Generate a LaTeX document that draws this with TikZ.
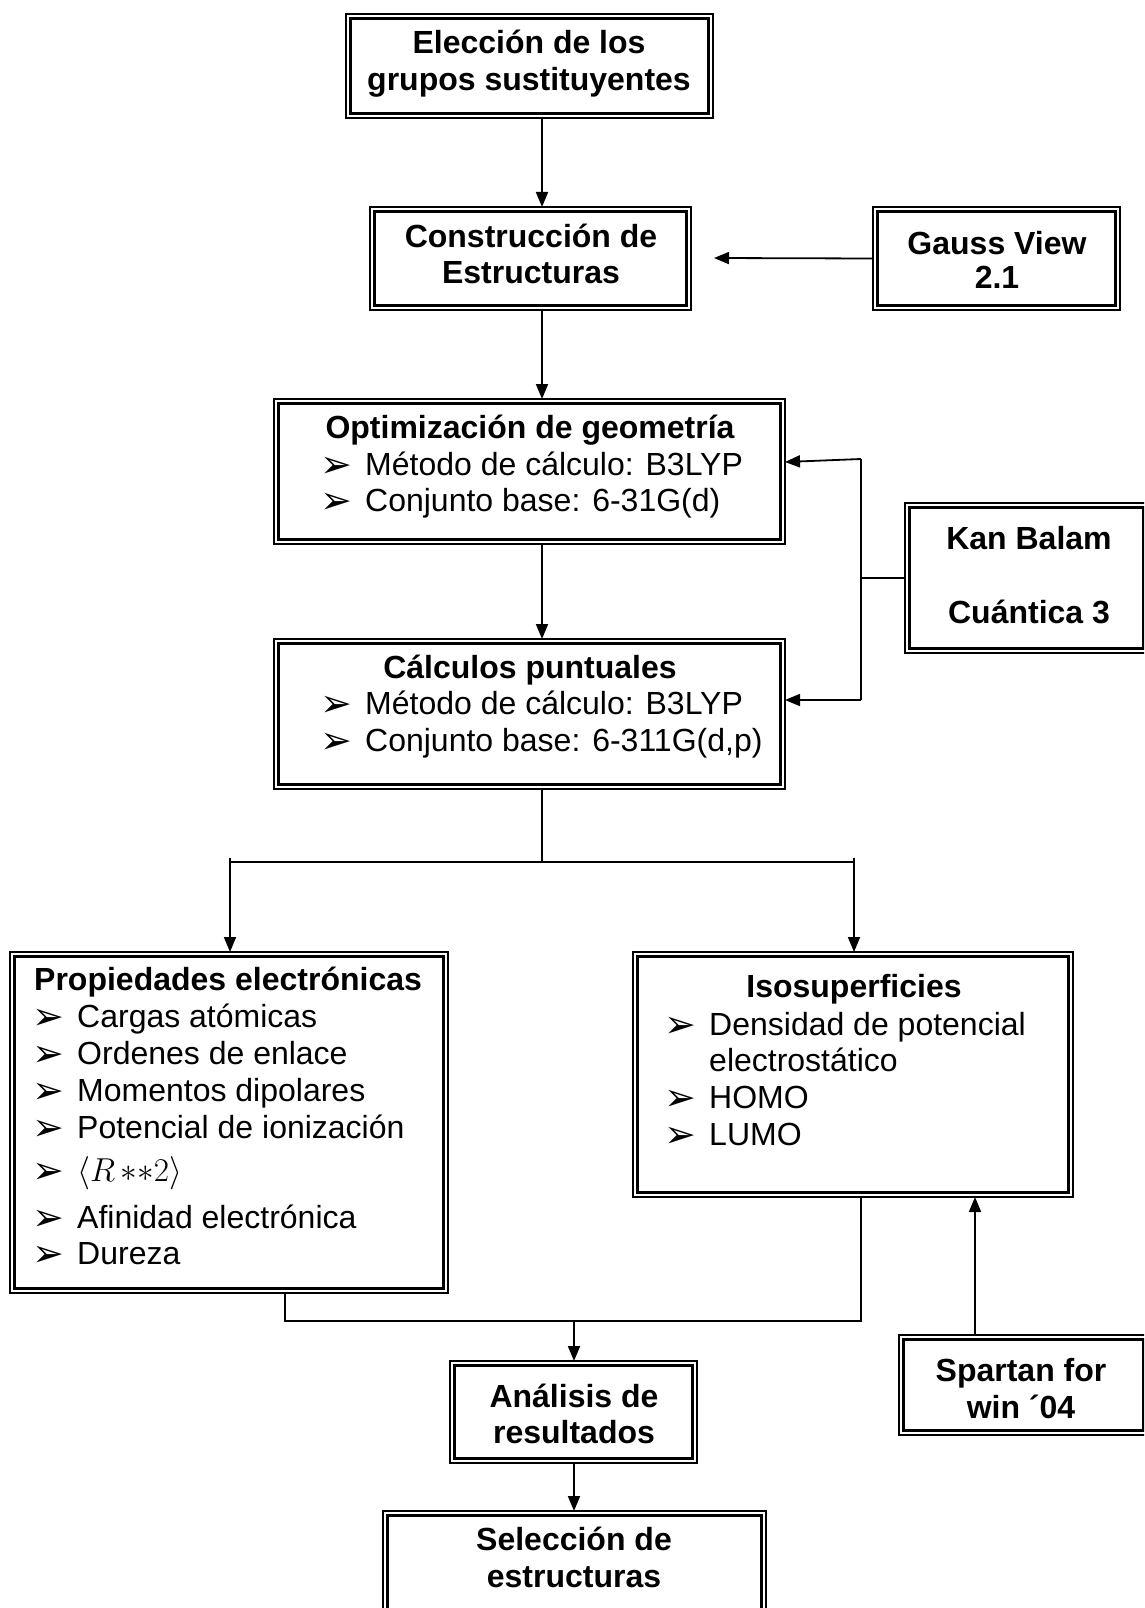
\documentclass[tikz,border=0pt]{standalone}
\usepackage{graphicx}
\usepackage{fontspec}
\setmainfont{Liberation Sans}
\newfontfamily\dejavu{DejaVu Sans}
\usetikzlibrary{arrows.meta}
\newcommand\bul{\makebox[45pt][l]{\raisebox{-2pt}{\dejavu\fontsize{38}{38}\selectfont ➢}}}
\newcommand\dbox[5]{\node[box, minimum width={#4-#2}, minimum height={#5-#3}] (#1) at (#2,#3) {};}
\newcommand\rform{{\fontsize{20}{20}\selectfont\scalebox{1.6}{$\langle R\,{*}{*}2\rangle$}}}
\begin{document}
\fontsize{32}{37}\selectfont
\begin{tikzpicture}[x=1pt,y=-1pt,
  box/.style={draw, line width=1.4pt, inner sep=0pt, outer sep=0pt, anchor=north west},
  con/.style={line width=1.8pt},
  arr/.style={con, -{Triangle[length=15pt,width=12pt]}},
  tl/.style={anchor=base, inner sep=0pt, font=\bfseries},
  tlw/.style={anchor=base west, inner sep=0pt, font=\bfseries},
  it/.style={anchor=base west, inner sep=0pt}]
\useasboundingbox[fill=white] (0,0) rectangle (1144,1608);
\clip (0,0) rectangle (1144,1608);
% boxes
\dbox{elec}{346}{14}{713}{118}
\dbox{cons}{370}{207}{691}{310}
\dbox{gauss}{873}{207}{1120}{310}
\dbox{opt}{274}{399}{785}{544}
\dbox{calc}{274}{639}{785}{789}
\dbox{kan}{905}{503}{1148}{653}
\dbox{prop}{10}{952}{448}{1293}
\dbox{iso}{633}{952}{1073}{1197}
\dbox{anal}{450}{1361}{697}{1463}
\dbox{sel}{383}{1511}{766}{1640}
\dbox{spartan}{899}{1335}{1148}{1435}
\foreach \n in {elec,cons,gauss,opt,calc,kan,prop,iso,anal,sel,spartan}
  \draw[line width=3pt] ([shift={(4.5pt,-4.5pt)}]\n.north west) rectangle ([shift={(-4.5pt,4.5pt)}]\n.south east);
% texts
\node[tl] (elec1) at (529,54) {Elección de los};
\node[tl] (elec2) at (529,91) {grupos sustituyentes};
\node[tl] (cons1) at (531,247) {Construcción de};
\node[tl] (cons2) at (531,283) {Estructuras};
\node[tl] (gauss1) at (997,254) {Gauss View};
\node[tl] (gauss2) at (997,288) {2.1};
\node[tl] (kan1) at (1029,549) {Kan Balam};
\node[tl] (kan2) at (1029,623) {Cuántica 3};
\node[tl] (opt0) at (530,438) {Optimización de geometría};
\node[it] (opt1) at (320,475) {\bul Método de cálculo: B3LYP};
\node[it] (opt2) at (320,511) {\bul Conjunto base: 6-31G(d)};
\node[tl] (calc0) at (530,678) {Cálculos puntuales};
\node[it] (calc1) at (320,714) {\bul Método de cálculo: B3LYP};
\node[it] (calc2) at (320,751) {\bul Conjunto base: 6-311G(d,p)};
\node[tlw] (prop0) at (34,990) {Propiedades electrónicas};
\node[it] (prop1) at (32,1027) {\bul Cargas atómicas};
\node[it] (prop2) at (32,1064) {\bul Ordenes de enlace};
\node[it] (prop3) at (32,1101) {\bul Momentos dipolares};
\node[it] (prop4) at (32,1138) {\bul Potencial de ionización};
\node[it] (prop5) at (32,1181) {\bul \rform};
\node[it] (prop6) at (32,1228) {\bul Afinidad electrónica};
\node[it] (prop7) at (32,1264) {\bul Dureza};
\node[tl] (iso0) at (854,997) {Isosuperficies};
\node[it] (iso1) at (664,1035) {\bul Densidad de potencial};
\node[it] (iso1b) at (709,1071) {electrostático};
\node[it] (iso2) at (664,1108) {\bul HOMO};
\node[it] (iso3) at (664,1145) {\bul LUMO};
\node[tl] (anal1) at (574,1407) {Análisis de};
\node[tl] (anal2) at (574,1443) {resultados};
\node[tl] (sel1) at (574,1550) {Selección de};
\node[tl] (sel2) at (574,1587) {estructuras};
\node[tl] (spar1) at (1021,1381) {Spartan for};
\node[tl] (spar2) at (1021,1418) {win ´04};
% connectors
\coordinate (ax) at (542,0);
\draw[arr] (elec.south -| ax) -- (cons.north -| ax);
\draw[arr] (cons.south -| ax) -- (opt.north -| ax);
\coordinate (gtip) at (714,258);
\draw[arr] (gauss.west) -- (gtip);
\draw[arr] (opt.south -| ax) -- (calc.north -| ax);
\coordinate (kj1) at (861,459);
\coordinate (kj2) at (861,700);
\coordinate (optin) at (785,462);
\draw[con] (kan.west) -- (kan.west -| kj1);
\draw[con] (kj1) -- (kj2);
\draw[arr] (kj1) -- (optin);
\draw[arr] (kj2) -- (calc.east |- kj2);
\coordinate (s) at (542,862);
\coordinate (sl) at (230,862);
\coordinate (sr) at (854,862);
\draw[con] (calc.south -| ax) -- (s);
\draw[con] (sl) -- (sr);
\draw[arr] ([yshift=4pt]sl) -- (prop.north -| sl);
\draw[arr] ([yshift=4pt]sr) -- (iso.north -| sr);
\coordinate (ml) at (285,1321);
\coordinate (mr) at (861,1321);
\coordinate (mc) at (574,1321);
\draw[con] (prop.south -| ml) -- (ml) -- (mr) -- (iso.south -| mr);
\draw[arr] (mc) -- (anal.north -| mc);
\draw[arr] (anal.south -| mc) -- (sel.north -| mc);
\coordinate (sp) at (975,0);
\draw[arr] (spartan.north -| sp) -- (iso.south -| sp);
\end{tikzpicture}
\end{document}
